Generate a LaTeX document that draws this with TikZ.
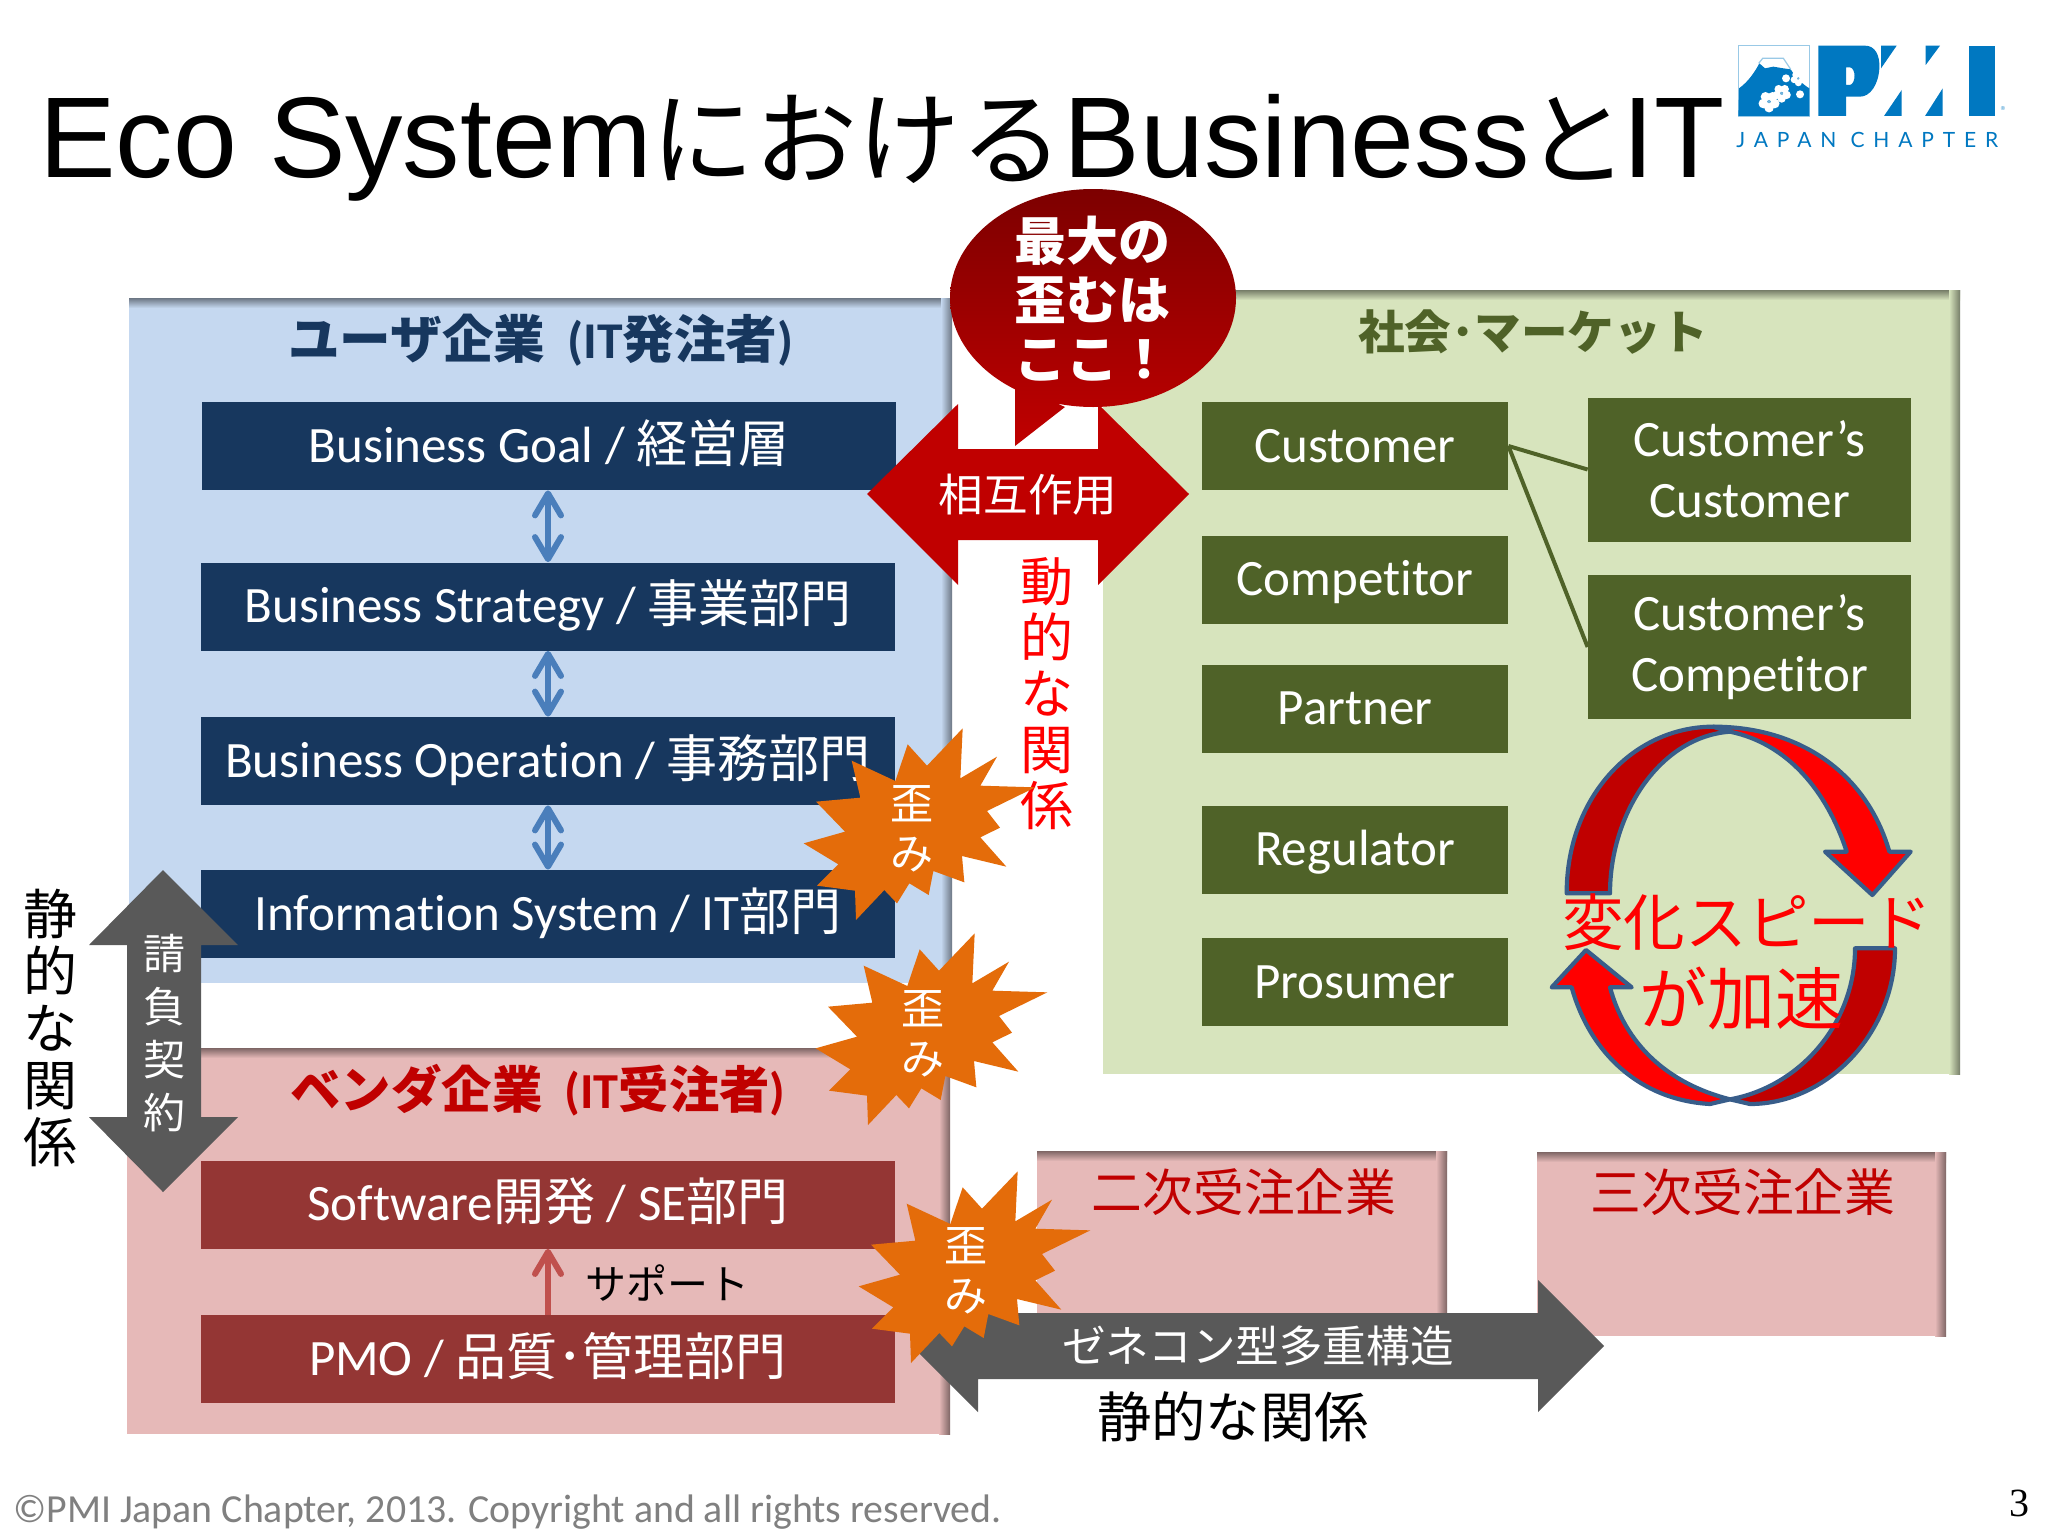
\documentclass[tikz,border=0pt]{standalone}
\usepackage{fontspec}
\usetikzlibrary{arrows.meta}
\setmainfont[Ligatures=NoCommon]{Carlito}
\newfontfamily\cjk{Noto Sans CJK JP}
\newfontfamily\lib{Liberation Sans}
\newfontfamily\serifnum{Liberation Serif}
\newfontfamily\logofont[LetterSpace=42]{Lato}
\definecolor{navy}{HTML}{17375E}
\definecolor{olive}{HTML}{4F6228}
\definecolor{brick}{HTML}{943634}
\definecolor{paleblue}{HTML}{C5D8F0}
\definecolor{palegreen}{HTML}{D7E4BD}
\definecolor{palepink}{HTML}{E6B9B8}
\definecolor{deepred}{HTML}{C00000}
\definecolor{burstor}{HTML}{E46C0A}
\definecolor{slate}{HTML}{595959}
\definecolor{pmiblue}{HTML}{0078C1}
\definecolor{ringblue}{HTML}{385D8A}
\definecolor{linkblue}{HTML}{4A7EBB}
\definecolor{linkred}{HTML}{C0504D}
\tikzset{
  fs/.style={font=\fontsize{#1}{#1}\selectfont},
  jstack/.style 2 args={font=\fontsize{#1}{#2}\selectfont\cjk},
  solidbox/.style={text=white,inner sep=0pt,align=center,fs=25.5,text height=20pt,text depth=4pt},
  navybox/.style={solidbox,fill=navy,minimum width=347pt,minimum height=44pt},
  brickbox/.style={solidbox,fill=brick,minimum width=347pt,minimum height=44pt},
  olivebox/.style={solidbox,fill=olive,minimum width=153pt,minimum height=44pt},
  olivewide/.style={text=white,inner sep=0pt,align=center,fill=olive,minimum width=161.5pt,minimum height=72pt,font=\fontsize{25.5}{30.5}\selectfont},
  txt/.style={inner sep=0pt,align=center},
  linkline/.style={draw=#1,line width=3pt,>={Straight Barb[length=11pt,width=13pt,round]}},
}
\newcommand{\panel}[5]{%
  \fill[#5] (#1,#2) rectangle (#3,#4);
  \shade[top color=#5!55!black,bottom color=#5] (#1,#2) rectangle (#3,#2+10);
  \shade[left color=#5,right color=#5!55!black] (#3-11,#2) rectangle (#3,#4);
}
\newcommand{\burstat}[2]{%
  \begin{scope}[shift={(#1,#2)},scale=0.33333,shift={(-430,-990)}]
  \fill[burstor] (585,700)--(578,850)--(688,785)--(638,872)--(803,877)--(658,948)--(697,998)--(638,1027)--(716,1115)--(583,1083)--(590,1162)--(497,1128)--(483,1200)--(425,1165)--(388,1225)--(350,1185)--(265,1275)--(262,1187)--(148,1172)--(212,1108)--(108,1045)--(232,1010)--(145,920)--(278,908)--(252,797)--(383,858)--(420,748)--(478,812)--cycle;
  \end{scope}}
\newcommand{\blossom}[3]{%
  \foreach \ang in {90,162,234,306,18}
    \fill[white] (#1,#2) ++(\ang:{0.6*#3}) circle[radius={0.48*#3}];
  \fill[pmiblue!55] (#1,#2) circle[radius={0.17*#3}];}
\begin{document}
\begin{tikzpicture}[x=0.5pt,y=-0.5pt]
\useasboundingbox (0,0) rectangle (2048,1536);
\fill[white] (0,0) rectangle (2048,1536);
% title
\node[txt,anchor=base west,fs=57.4] (title) at (39,177) {\lib Eco System{\cjk\fontsize{51.5}{53}\selectfont における}Business{\cjk\fontsize{51.5}{53}\selectfont\kern-2pt と\kern-3pt}IT};
% panels
\panel{129}{298}{952}{983}{paleblue}
\panel{127}{1048}{950}{1434}{palepink}
\panel{1103}{290}{1960}{1074}{palegreen}
\panel{1037}{1151}{1447}{1337}{palepink}
\panel{1537}{1152}{1946}{1336}{palepink}
% panel headings
\node[txt,text=navy,fs=25.8] (userhead) at (541,340) {\bfseries{\cjk ユーザ企業}\hspace{11pt}(IT{\cjk 発注者})};
\node[txt,text=deepred,fs=25.2] (vendorhead) at (538,1090) {\bfseries{\cjk ベンダ企業}\hspace{11pt}(IT{\cjk 受注者})};
\node[txt,text=olive,fs=23.3] (markethead) at (1533,332) {\bfseries\cjk 社会･マーケット};
\node[txt,text=deepred,fs=25.4] (second) at (1244,1192) {\cjk 二次受注企業};
\node[txt,text=deepred,fs=25.4] (third) at (1743,1192) {\cjk 三次受注企業};
% left boxes
\node[navybox] (goal) at (549,446) {Business Goal / {\cjk 経営層}};
\node[navybox] (strategy) at (548,606.5) {Business Strategy / {\cjk 事業部門}};
\node[navybox] (operation) at (548,761) {Business Operation / {\cjk 事務部門}};
\node[navybox] (info) at (548,914) {Information System / IT{\cjk 部門}};
\node[brickbox] (software) at (548,1204.5) {Software{\cjk 開発} / SE{\cjk 部門}};
\node[brickbox] (pmo) at (548,1359) {PMO / {\cjk 品質･管理部門}};
\node[txt,fs=20.5] (support) at (667,1283) {\cjk サポート};
\coordinate (barx) at (548,0);
\foreach \a/\b in {goal/strategy,strategy/operation,operation/info}
  \draw[linkline=linkblue,<->] (\a.south -| barx) -- (\b.north -| barx);
\draw[linkline=linkred,->] (pmo.north -| barx) -- (software.south -| barx);
% right boxes
\node[olivebox] (customer) at (1355,446) {Customer};
\node[olivebox] (competitor) at (1355,579.5) {Competitor};
\node[olivebox] (partner) at (1355,708.5) {Partner};
\node[olivebox] (regulator) at (1355,849.5) {Regulator};
\node[olivebox] (prosumer) at (1355,982) {Prosumer};
\node[olivewide] (cc) at (1749.5,469.5) {Customer’s\\Customer};
\node[olivewide] (cp) at (1749.5,647) {Customer’s\\Competitor};
\draw[olive,line width=2pt] (customer.east) -- (cc.west);
\draw[olive,line width=2pt] (customer.east) -- (cp.west);
% red double arrow
\fill[deepred] (867,494)--(958,404)--(958,449)--(1098,449)--(1098,404)--(1189,494)--(1098,585)--(1098,540)--(958,540)--(958,585)--cycle;
\node[txt,text=white,fs=22.3] (mutual) at (1028,495) {\cjk 相互作用};
% callout
\shade[top color=black!35!deepred,bottom color=deepred]
  (1093,189) .. controls (1172,189) and (1236,238) .. (1236,298)
  .. controls (1236,358) and (1172,407) .. (1093,407)
  .. controls (1014,407) and (950,358) .. (950,298)
  .. controls (950,238) and (1014,189) .. (1093,189) -- cycle
  (1015,385) -- (1065,407) -- (1015,446) -- cycle;
\node[txt,text=white,font=\fontsize{26}{29.5}\selectfont\bfseries\cjk] (callout) at (1092,299) {最大の\\歪むは\\ここ！};
\node[txt,text=red,jstack={26.5}{28}] (dynamic) at (1047,694) {動\\的\\な\\関\\係};
% grey arrows
\fill[slate] (163,870)--(238,945)--(201,945)--(201,1117)--(238,1117)--(163,1192)--(89,1117)--(127,1117)--(127,945)--(89,945)--cycle;
\node[txt,text=white,jstack={21}{26.5}] (contract) at (164,1033) {請\\負\\契\\約};
\node[txt,text=black,jstack={27}{28.5}] (staticv) at (50,1028) {静\\的\\な\\関\\係};
\fill[slate] (912,1346)--(978,1280)--(978,1313)--(1538,1313)--(1538,1280)--(1604,1346)--(1538,1412)--(1538,1379)--(978,1379)--(978,1412)--cycle;
\node[txt,text=white,fs=21.8] (genecon) at (1258,1346) {\cjk ゼネコン型多重構造};
\node[txt,text=black,fs=27.2] (statich) at (1233,1417) {\cjk 静的な関係};
% bursts
\burstat{911}{825}
\burstat{923}{1030}
\burstat{966}{1268}
\foreach \n/\x/\y in {a/912/829,b/923/1034,c/966/1271}
  \node[txt,text=white,jstack={21.5}{25}] (burst\n) at (\x,\y) {歪\\み};
% cycle arrows
\begin{scope}[shift={(1500,680)},scale=0.33333]
\begin{scope}[draw=ringblue,line width=2.1pt,line join=round]
\filldraw[fill=deepred] (200,640) .. controls (200,350) and (400,140) .. (640,140) -- (690,155) .. controls (480,170) and (330,400) .. (330,640) -- cycle;
\filldraw[fill=red] (640,140) .. controls (900,140) and (1100,280) .. (1168,515) -- (1232,515) -- (1117,645) -- (975,515) -- (1040,515) .. controls (980,330) and (860,190) .. (690,155) -- cycle;
\filldraw[fill=red] (258,810) -- (395,922) -- (330,922) .. controls (375,1090) and (500,1210) .. (690,1258) -- (630,1272) .. controls (420,1260) and (270,1120) .. (215,922) -- (155,922) -- cycle;
\filldraw[fill=deepred] (1065,805) -- (1185,805) .. controls (1185,1060) and (980,1272) .. (750,1272) -- (690,1258) .. controls (900,1220) and (1065,1030) .. (1065,805) -- cycle;
\end{scope}
\end{scope}
\node[txt,text=red,fs=30.8] (speed1) at (1747,922) {\cjk 変化スピード};
\node[txt,text=red,fs=34] (speed2) at (1741,998) {\cjk が加速};
% footer
\node[txt,anchor=west,text=black!50,fs=19.9] (footer) at (13,1512) {©PMI Japan Chapter, 2013. Copyright and all rights reserved.};
\node[txt,fs=20] (pageno) at (2019,1503) {\serifnum 3};
% logo
\begin{scope}[shift={(1720,35)},scale=0.33333]
\draw[pmiblue!40,line width=0.8pt] (55,32) rectangle (268,243);
\fill[pmiblue] (57,160) .. controls (85,140) and (105,110) .. (118,85) -- (135,100) -- (160,95) -- (190,100) -- (212,103) .. controls (225,125) and (250,150) .. (268,160) -- (268,243) -- (55,243) -- cycle;
\draw[pmiblue!40,line width=0.6pt] (116,85) -- (128,70) -- (190,70) -- (212,103);
\blossom{147}{200}{30}
\blossom{185}{175}{26}
\blossom{235}{130}{22}
\fill[white] (198,130) circle[radius=12];
\fill[white] (240,178) circle[radius=12];
\fill[pmiblue,even odd rule] (295,32) -- (435,32) .. controls (465,32) and (480,60) .. (478,100) .. controls (475,150) and (450,185) .. (420,185) -- (378,185) -- (378,243) -- (295,243) -- cycle
  (378,97) -- (390,97) .. controls (408,100) and (408,145) .. (390,150) -- (378,150) -- cycle;
\fill[pmiblue] (483,32)--(530,32)--(483,100)--cycle;
\fill[pmiblue] (492,243)--(545,165)--(545,243)--cycle;
\fill[pmiblue] (617,32)--(660,32)--(617,90)--cycle;
\fill[pmiblue] (615,243)--(668,160)--(668,243)--cycle;
\fill[pmiblue] (748,32) rectangle (826,243);
\end{scope}
\node[txt,text=pmiblue,anchor=west,fs=10.5] (logotext) at (1736,140) {\logofont JAPAN CHAPTER};
\node[txt,text=pmiblue!70,fs=6.5] (regmark) at (2004,111) {®};
\end{tikzpicture}
\end{document}
